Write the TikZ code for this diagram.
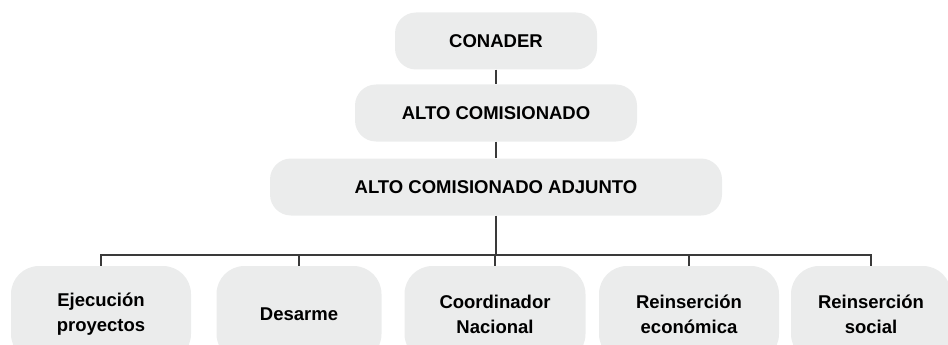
\documentclass[tikz,border=0pt]{standalone}
\usepackage{fontspec}
\setmainfont{Liberation Sans}
\usepackage{tikz}
\usetikzlibrary{positioning,calc}

\definecolor{boxgray}{RGB}{235,236,236}
\definecolor{linegray}{RGB}{58,58,58}

\tikzset{
  orgbox/.style={fill=boxgray, rounded corners=21pt, inner sep=0pt,
    minimum height=57pt, font=\fontsize{18.5}{25}\selectfont\bfseries},
  subbox/.style={fill=boxgray, rounded corners=28pt, inner sep=0pt,
    minimum height=96pt, align=center, font=\fontsize{18.5}{25}\selectfont\bfseries},
  link/.style={draw=linegray, line width=1.7pt}
}

\begin{document}
\begin{tikzpicture}[x=1pt,y=-1pt]
\useasboundingbox (0,0) rectangle (948,345);
\clip (0,0) rectangle (948,345);

% upper levels
\node[orgbox, minimum width=202pt] (conader) at (496,41) {CONADER};
\node[orgbox, minimum width=282pt] (alto) at (496,113) {ALTO COMISIONADO};
\node[orgbox, minimum width=452pt] (adjunto) at (496,187) {ALTO COMISIONADO ADJUNTO};

% lower level
\node[subbox, minimum width=180pt] (ejec) at (101,314) {Ejecución\\proyectos};
\node[subbox, minimum width=165pt] (desarme) at (299,314) {Desarme};
\node[subbox, minimum width=181pt] (coord) at (495,314) {Coordinador\\Nacional};
\node[subbox, minimum width=180pt] (reineco) at (689,314) {Reinserción\\económica};
\node[subbox, minimum width=160pt] (reinsoc) at (871,314) {Reinserción\\social};

\coordinate (bus) at (496,255);

% connectors
\draw[link] (conader.south) -- (alto.north);
\draw[link] (alto.south) -- (adjunto.north);
\draw[link] (adjunto.south) -- (bus);
\draw[link] (ejec.north) |- (bus) -| (reinsoc.north);
\draw[link] (desarme.north) -- (desarme.north |- bus);
\draw[link] (coord.north) -- (coord.north |- bus);
\draw[link] (reineco.north) -- (reineco.north |- bus);
\end{tikzpicture}
\end{document}
